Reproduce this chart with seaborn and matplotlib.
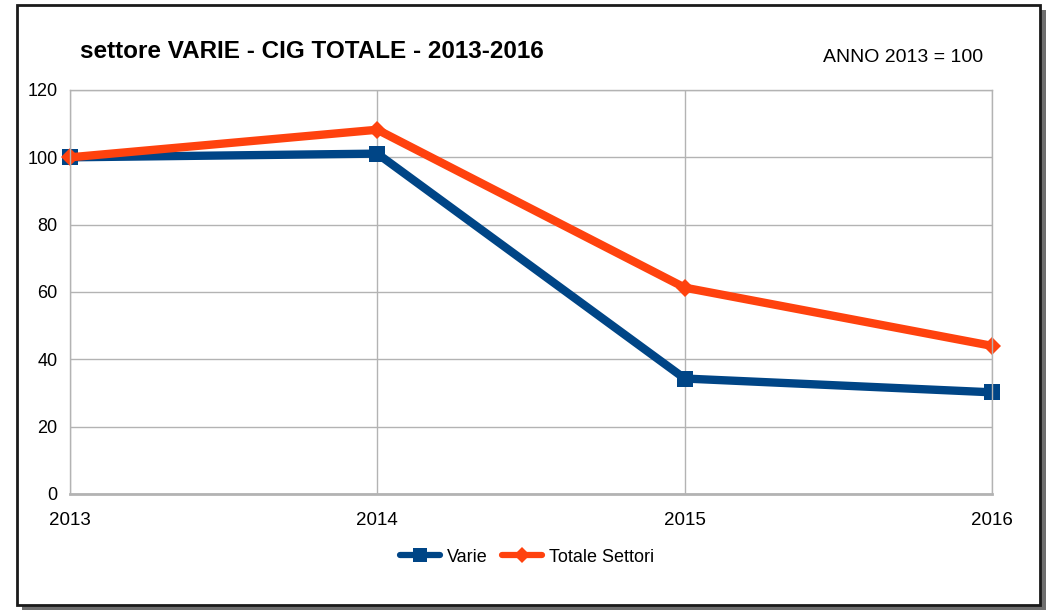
import matplotlib
matplotlib.use("Agg")
import matplotlib.pyplot as plt
from matplotlib.patches import Rectangle
import seaborn as sns
import pandas as pd

# dati (indice, anno 2013 = 100)
anni = [2013, 2014, 2015, 2016]
varie = [100, 101.1, 34.3, 30.2]
totale_settori = [100, 108.2, 61.3, 44.0]
serie = ["Varie", "Totale Settori"]
y_ticks = [0, 20, 40, 60, 80, 100, 120]

df = pd.DataFrame({
    "Anno": anni * 2,
    "Indice": varie + totale_settori,
    "Serie": [serie[0]] * len(anni) + [serie[1]] * len(anni),
})

sns.set_style("white")
plt.rcParams["font.family"] = ["Liberation Sans", "DejaVu Sans"]
plt.rcParams["text.color"] = "black"

fig = plt.figure(figsize=(10.47, 6.10), dpi=100)

# cornice con ombra
shadow = Rectangle((22 / 1047, 0.0), 1024 / 1047, 600 / 610, transform=fig.transFigure,
                   facecolor="#6e6e6e", edgecolor="none", zorder=-3)
frame = Rectangle((17 / 1047, 5 / 610), 1023 / 1047, 600 / 610, transform=fig.transFigure,
                  facecolor="white", edgecolor="#1a1a1a", linewidth=2, zorder=-2)
fig.patches.extend([shadow, frame])

ax = fig.add_axes([70 / 1047, 1 - 494 / 610, 922 / 1047, 404 / 610])
ax.set_facecolor("none")

palette = {"Varie": "#004586", "Totale Settori": "#ff420e"}
markers = {"Varie": "s", "Totale Settori": "D"}
sns.lineplot(data=df, x="Anno", y="Indice", hue="Serie", style="Serie",
             palette=palette, markers=markers, dashes=False, linewidth=6,
             markersize=11, markeredgewidth=0, ax=ax, clip_on=False, legend=False)

# diamanti un po' piu' piccoli
for line in ax.lines:
    if line.get_marker() == "D":
        line.set_markersize(9.5)

ax.set_xlim(2013, 2016)
ax.set_ylim(0, 120)
ax.set_xticks(anni)
ax.set_xticklabels([str(a) for a in anni])
ax.set_yticks(y_ticks)
ax.set_xlabel("")
ax.set_ylabel("")
ax.grid(True, color="#b3b3b3", linewidth=1)
ax.set_axisbelow(True)
for s in ax.spines.values():
    s.set_color("#b3b3b3")
    s.set_linewidth(1)
ax.spines["bottom"].set_linewidth(2)
ax.tick_params(axis="both", colors="#b3b3b3", labelcolor="black", labelsize=13,
               length=6, width=1, direction="out")
ax.tick_params(axis="x", labelsize=13.5, pad=7)
ax.tick_params(axis="y", pad=3)

fig.text(80 / 1047, 1 - 52 / 610, "settore VARIE - CIG TOTALE - 2013-2016",
         family=["Liberation Sans Narrow", "Liberation Sans", "DejaVu Sans"],
         fontsize=17.5, fontweight="bold", va="center", ha="left", color="black")
fig.text(983 / 1047, 1 - 57 / 610, "ANNO 2013 = 100", fontsize=14, va="center", ha="right",
         color="black")

handles = [plt.Line2D([], [], color=palette[s], marker=markers[s], linewidth=4.5,
                      markersize=10 if s == "Varie" else 8.5, markeredgewidth=0) for s in serie]
fig.legend(handles, serie, loc="center", bbox_to_anchor=(527 / 1047, 1 - 557 / 610),
           ncol=2, frameon=False, fontsize=13, handlelength=2.2, handletextpad=0.4,
           columnspacing=0.8)

fig.savefig("out.png", dpi=100)
